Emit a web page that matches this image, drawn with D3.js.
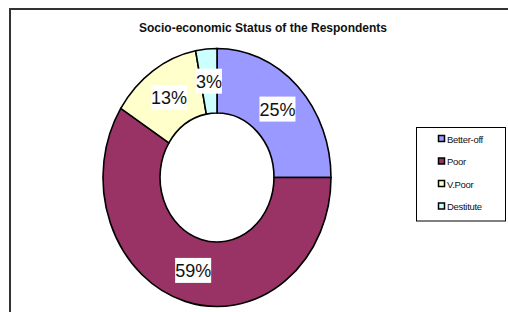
<!DOCTYPE html>
<html><head><meta charset="utf-8">
<script src="https://cdn.jsdelivr.net/npm/d3@7/dist/d3.min.js"></script>
<style>body{margin:0;background:#fff}svg{display:block}</style>
</head><body>
<script>
const categories = ["Better-off", "Poor", "V.Poor", "Destitute"];
const values = [25, 59, 13, 3];
const labels = ["25%", "59%", "13%", "3%"];
const colors = ["#9999FF", "#993366", "#FFFFCC", "#CCFFFF"];
const title = "Socio-economic Status of the Respondents";

const W = 508, H = 312;
const svg = d3.select("body").append("svg").attr("width", W).attr("height", H);
svg.append("rect").attr("width", W).attr("height", H).attr("fill", "#fff");

// chart frame
svg.append("rect").attr("x", 10).attr("y", 9).attr("width", 560).attr("height", 360)
  .attr("fill", "none").attr("stroke", "#333").attr("stroke-width", 2);

svg.append("text").attr("x", 263).attr("y", 32).attr("text-anchor", "middle")
  .attr("font-family", "Liberation Sans, Arial, sans-serif").attr("font-weight", "bold")
  .attr("font-size", 12).attr("letter-spacing", 0).attr("fill", "#111").text(title);

const cx = 217, cy = 177.5, ry = 129, rx = 114;
const pie = d3.pie().sort(null).value(d => d);
const arcs = pie(values);
const arc = d3.arc().innerRadius(ry * 0.5).outerRadius(ry);
const g = svg.append("g").attr("transform", `translate(${cx},${cy}) scale(${rx / ry},1)`);
g.selectAll("path").data(arcs).join("path")
  .attr("d", arc).attr("fill", (d, i) => colors[i])
  .attr("stroke", "#000").attr("stroke-width", 1.6)
  .attr("vector-effect", "non-scaling-stroke");

const lg = svg.append("g");
arcs.forEach((d, i) => {
  const [x, y] = arc.centroid(d);
  const px = cx + x * rx / ry, py = cy + y;
  const t = lg.append("text").attr("x", px).attr("y", py + 6.5).attr("text-anchor", "middle")
    .attr("font-family", "Liberation Sans, Arial, sans-serif").attr("font-size", 18)
    .attr("fill", "#111").text(labels[i]);
  const bb = t.node().getBBox();
  lg.insert("rect", () => t.node()).attr("x", bb.x).attr("y", py - 12.5)
    .attr("width", bb.width).attr("height", 25).attr("fill", "#fff");
});

// legend
svg.append("rect").attr("x", 416.5).attr("y", 127.5).attr("width", 89).attr("height", 93.5)
  .attr("fill", "#fff").attr("stroke", "#000").attr("stroke-width", 1);
const leg = svg.append("g");
categories.forEach((c, i) => {
  const y = 139 + i * 22.5;
  leg.append("rect").attr("x", 438.5).attr("y", y - 3.5).attr("width", 6).attr("height", 6)
    .attr("fill", colors[i]).attr("stroke", "#000").attr("stroke-width", 1.5);
  leg.append("text").attr("x", 447).attr("y", y + 3.5)
    .attr("font-family", "Liberation Sans, Arial, sans-serif").attr("font-size", 9.5)
    .attr("letter-spacing", -0.3).attr("fill", "#111").text(c);
});
</script>
</body></html>
